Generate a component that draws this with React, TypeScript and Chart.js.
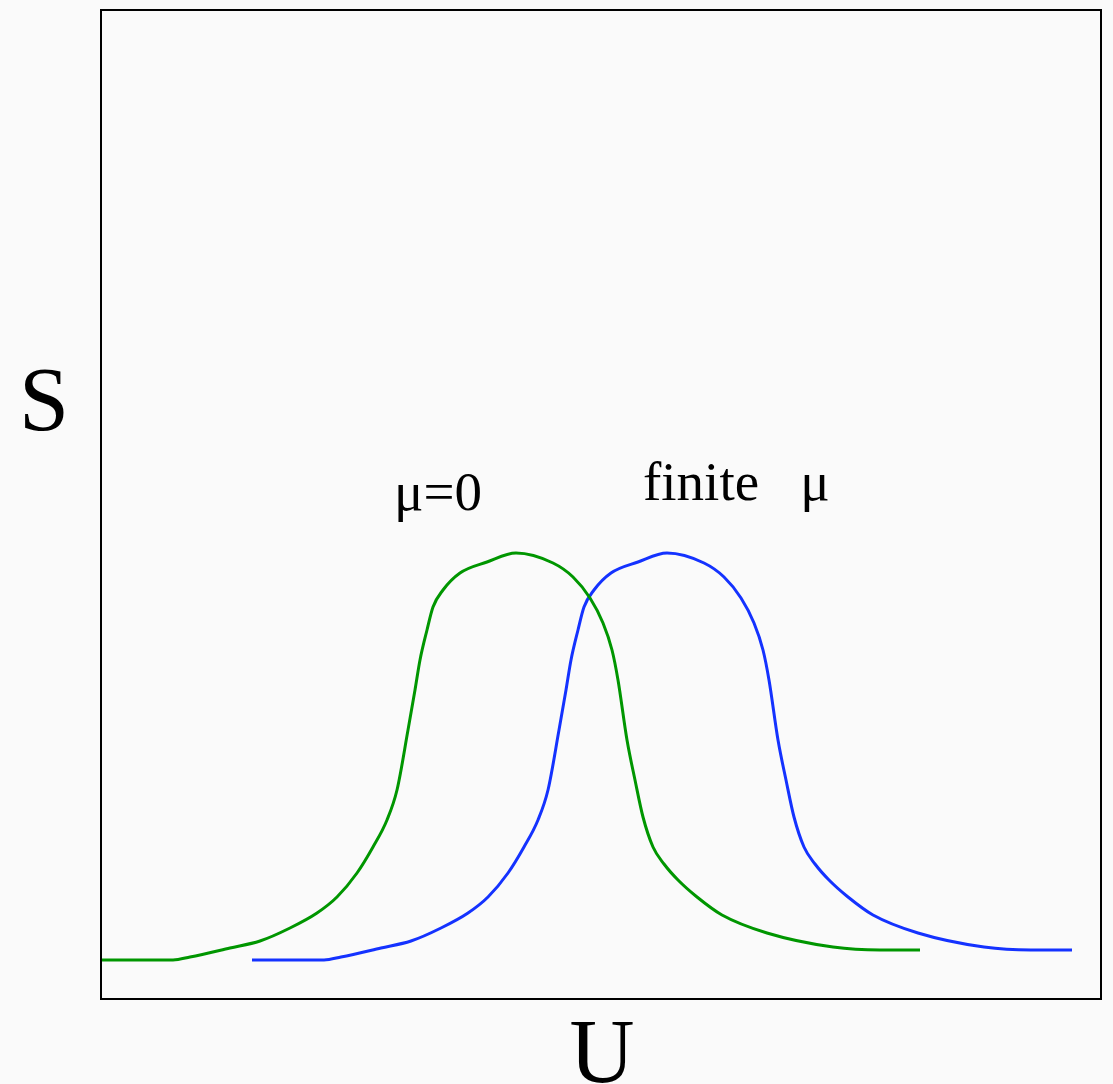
import React, { useEffect, useRef } from "react";
import { Chart, registerables } from "chart.js";

Chart.register(...registerables);

// Entropy S against U, for zero and finite chemical potential
const uZero = [0, 72, 89, 129, 159, 189, 216, 236, 256, 272, 286, 296, 307, 314, 319, 326, 332, 342, 359, 386, 415, 452, 472, 489, 502, 511, 517, 526, 534, 542, 552, 563, 577, 596, 621, 666, 732, 779, 819];
const sZero = [39, 39, 42, 51, 58, 71, 86, 102, 126, 152, 179, 209, 269, 309, 339, 369, 392, 409, 426, 437, 446, 436, 422, 401, 376, 349, 319, 259, 219, 182, 152, 135, 119, 102, 84, 66, 52, 49, 49];

const uFinite = [151, 223, 240, 280, 310, 340, 367, 387, 407, 423, 437, 447, 458, 465, 470, 477, 483, 493, 510, 537, 566, 603, 623, 640, 653, 662, 668, 677, 685, 693, 703, 714, 728, 747, 772, 817, 883, 930, 971];
const sFinite = [39, 39, 42, 51, 58, 71, 86, 102, 126, 152, 179, 209, 269, 309, 339, 369, 392, 409, 426, 437, 446, 436, 422, 401, 376, 349, 319, 259, 219, 182, 152, 135, 119, 102, 84, 66, 52, 49, 49];

const curveLabels = ["\u03bc=0", "finite   \u03bc"];
const labelU = [293, 542];
const labelS = [489, 499];

const xTitle = "U";
const yTitle = "S";

const BG = "#fafafa";

export default function App() {
  const ref = useRef<HTMLCanvasElement | null>(null);

  useEffect(() => {
    document.body.style.margin = "0";
    document.body.style.background = BG;
    const canvas = ref.current;
    if (!canvas) return;

    const decor = {
      id: "decor",
      beforeDraw(chart: any) {
        const { ctx, width, height } = chart;
        ctx.save();
        ctx.fillStyle = BG;
        ctx.fillRect(0, 0, width, height);
        ctx.restore();
      },
      afterDraw(chart: any) {
        const { ctx, chartArea } = chart;
        const xs = chart.scales.x;
        const ys = chart.scales.y;
        ctx.save();
        ctx.strokeStyle = "#000";
        ctx.lineWidth = 2;
        ctx.strokeRect(chartArea.left, chartArea.top, chartArea.right - chartArea.left, chartArea.bottom - chartArea.top);

        ctx.fillStyle = "#000";
        ctx.font = '55px "Liberation Serif", "DejaVu Serif", serif';
        ctx.textAlign = "left";
        ctx.textBaseline = "alphabetic";
        curveLabels.forEach((t, i) => {
          ctx.fillText(t, xs.getPixelForValue(labelU[i]), ys.getPixelForValue(labelS[i]));
        });

        ctx.font = '90px "Liberation Serif", "DejaVu Serif", serif';
        ctx.textAlign = "center";
        ctx.textBaseline = "alphabetic";
        ctx.fillText(yTitle, 44, 430);
        ctx.fillText(xTitle, (chartArea.left + chartArea.right) / 2 + 1, 1082);
        ctx.restore();
      },
    };

    const chart = new Chart(canvas, {
      type: "line",
      data: {
        datasets: [
          {
            label: curveLabels[0],
            data: uZero.map((u, i) => ({ x: u, y: sZero[i] })),
            borderColor: "#009600",
            borderWidth: 3,
            pointRadius: 0,
            cubicInterpolationMode: "monotone",
            fill: false,
          },
          {
            label: curveLabels[1],
            data: uFinite.map((u, i) => ({ x: u, y: sFinite[i] })),
            borderColor: "#1432ff",
            borderWidth: 3,
            pointRadius: 0,
            cubicInterpolationMode: "monotone",
            fill: false,
          },
        ],
      },
      options: {
        animation: false,
        responsive: false,
        maintainAspectRatio: false,
        layout: { padding: { left: 101, right: 12, top: 10, bottom: 85 } },
        plugins: { legend: { display: false }, tooltip: { enabled: false } },
        scales: {
          x: { type: "linear", min: 0, max: 1000, display: false },
          y: { type: "linear", min: 0, max: 989, display: false },
        },
      },
      plugins: [decor],
    });

    return () => chart.destroy();
  }, []);

  return (
    <div style={{ width: 1113, height: 1084 }}>
      <canvas ref={ref} width={1113} height={1084} style={{ display: "block" }} />
    </div>
  );
}
